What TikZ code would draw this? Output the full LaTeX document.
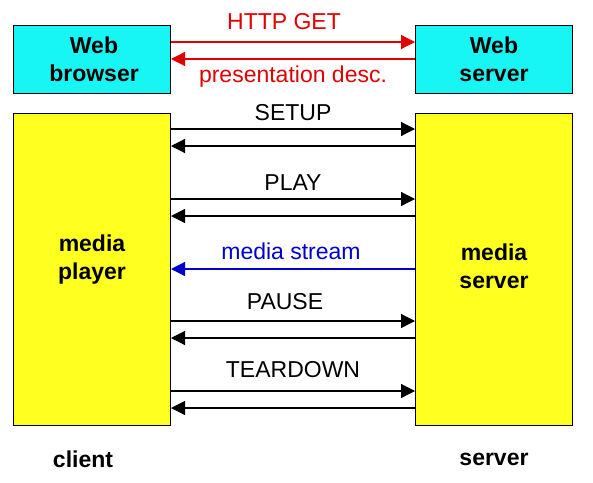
\documentclass[tikz,border=0pt]{standalone}
\usepackage{fontspec}
\setmainfont{Liberation Sans}
\usetikzlibrary{positioning,arrows.meta}
\definecolor{webcyan}{RGB}{24,245,245}
\definecolor{mediayellow}{RGB}{255,255,32}
\definecolor{httpred}{RGB}{224,0,0}
\definecolor{streamblue}{RGB}{0,0,204}

\begin{document}
\begin{tikzpicture}[x=1pt,y=-1pt,
		box/.style={draw, line width=1pt, inner sep=0pt, anchor=north west, font=\fontsize{23}{28}\selectfont\bfseries, align=center},
		msg/.style={line width=1.2pt, -{Triangle[length=14pt,width=14pt]}},
		lbl/.style={font=\fontsize{23}{28}\selectfont}]
			\useasboundingbox (0,0) rectangle (593,482);

			% boxes
			\node[box, fill=webcyan, minimum width=157pt, minimum height=68pt] (browser) at (13,25) {};
			\node[box, fill=webcyan, minimum width=157pt, minimum height=68pt] (webserver) at (415,25) {};
			\node[box, fill=mediayellow, minimum width=157pt, minimum height=312pt] (player) at (13,113) {};
			\node[box, fill=mediayellow, minimum width=157pt, minimum height=312pt] (mediaserver) at (415,113) {};

			% box texts
			\node[box, draw=none, anchor=center] at ([xshift=2pt]browser.center) {Web\\browser};
			\node[box, draw=none, anchor=center] at (webserver.center) {Web\\server};
			\node[box, draw=none, anchor=center] at ([yshift=10pt]player.center) {media\\player};
			\node[box, draw=none, anchor=center] at ([yshift=3pt]mediaserver.center) {media\\server};

			% web messages
			\draw[msg, httpred] (browser.east |- 0,42) -- node[lbl, above=8pt, xshift=-9pt] {HTTP GET} (webserver.west |- 0,42);
			\draw[msg, httpred] (webserver.west |- 0,59) -- node[lbl, below=3pt] {presentation desc.} (browser.east |- 0,59);

			% rtsp messages
			\draw[msg] (player.east |- 0,129) -- node[lbl, above=4.5pt] {SETUP} (mediaserver.west |- 0,129);
			\draw[msg] (mediaserver.west |- 0,146) -- (player.east |- 0,146);
			\draw[msg] (player.east |- 0,199) -- node[lbl, above=5pt] {PLAY} (mediaserver.west |- 0,199);
			\draw[msg] (mediaserver.west |- 0,216) -- (player.east |- 0,216);
			\draw[msg, streamblue] (mediaserver.west |- 0,269) -- node[lbl, above=5.5pt, xshift=-2pt] {media stream} (player.east |- 0,269);
			\draw[msg] (player.east |- 0,321) -- node[lbl, above=7.5pt, xshift=-8pt] {PAUSE} (mediaserver.west |- 0,321);
			\draw[msg] (mediaserver.west |- 0,338) -- (player.east |- 0,338);
			\draw[msg] (player.east |- 0,391) -- node[lbl, above=9.5pt] {TEARDOWN} (mediaserver.west |- 0,391);
			\draw[msg] (mediaserver.west |- 0,408) -- (player.east |- 0,408);

			% sides
			\node[box, draw=none, anchor=center] (client) at (83,459) {client};
			\node[box, draw=none, anchor=center] (server) at (494,459) {server};
		\end{tikzpicture}
\end{document}
